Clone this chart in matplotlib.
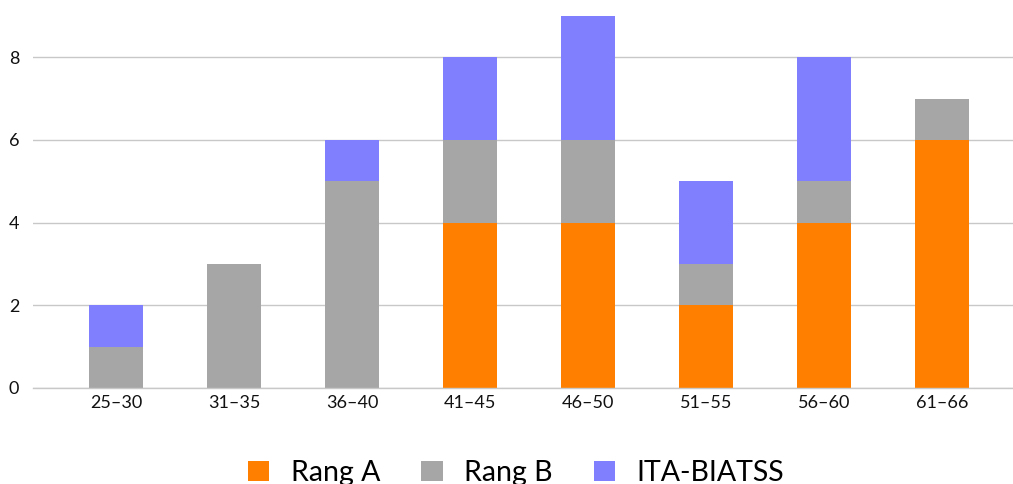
import matplotlib
matplotlib.use('Agg')
import matplotlib.pyplot as plt
import numpy as np

plt.rcParams['font.family'] = ['Lato', 'DejaVu Sans']

# données
categories = ['25–30', '31–35', '36–40', '41–45', '46–50', '51–55', '56–60', '61–66']
rang_a = [0, 0, 0, 4, 4, 2, 4, 6]
rang_b = [1, 3, 5, 2, 2, 1, 1, 1]
ita_biatss = [1, 0, 1, 2, 3, 2, 3, 0]

series = [('Rang A', rang_a, '#FF8000'),
          ('Rang B', rang_b, '#A6A6A6'),
          ('ITA-BIATSS', ita_biatss, '#8080FF')]

fig = plt.figure(figsize=(10.13, 4.84), dpi=100)
ax = fig.add_axes([33 / 1013, (484 - 388) / 484, 1 - 33 / 1013, (388 - 16) / 484])

x = np.arange(len(categories))
bottom = np.zeros(len(categories))
for name, vals, col in series:
    ax.bar(x, vals, width=0.46, bottom=bottom, color=col, label=name, zorder=2)
    bottom += np.array(vals)

ax.set_xlim(-0.5 - 24 / 118, 7.5 + 12 / 118)
ax.set_ylim(0, 9)
ax.set_yticks([0, 2, 4, 6, 8])
ax.set_xticks(x)
ax.set_xticklabels(categories)
ax.yaxis.grid(True, color='#C8C8C8', linewidth=1, zorder=0)
ax.axhline(0, color='#C8C8C8', linewidth=1, zorder=3, clip_on=False)
ax.set_axisbelow(True)
for s in ax.spines.values():
    s.set_visible(False)
ax.tick_params(axis='both', length=0, labelsize=13, colors='#111111')
ax.tick_params(axis='y', pad=10)
ax.tick_params(axis='x', pad=5)

fig.legend(loc='center', bbox_to_anchor=(516 / 1013, 1 - 473 / 484), ncol=3,
           frameon=False, fontsize=20.5, handlelength=0.75, handleheight=0.75,
           handletextpad=0.75, columnspacing=1.45, borderaxespad=0, borderpad=0)

fig.savefig('out.png', dpi=100, facecolor='white')
